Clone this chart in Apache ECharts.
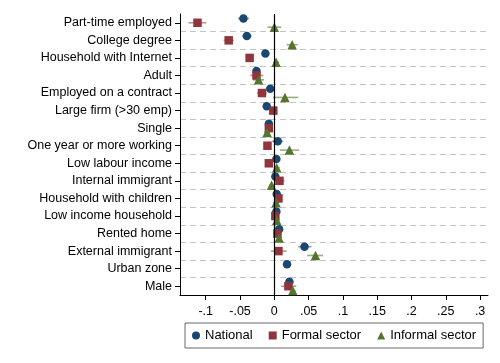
<!DOCTYPE html>
<html><head><meta charset="utf-8">
<script src="https://cdn.jsdelivr.net/npm/echarts@6/dist/echarts.min.js"></script>
<style>html,body{margin:0;padding:0;background:#fff}#c{width:500px;height:363px}</style>
</head><body><div id="c"></div>
<script>
const categories = ['Part-time employed','College degree','Household with Internet','Adult','Employed on a contract','Large firm (>30 emp)','Single','One year or more working','Low labour income','Internal immigrant','Household with children','Low income household','Rented home','External immigrant','Urban zone','Male'];

const nationalEst = [-0.045,-0.040,-0.013,-0.026,-0.006,-0.011,-0.008,0.005,0.003,0.0015,0.0035,0.003,0.007,0.044,0.0185,0.022];
const nationalLo  = [-0.053,-0.047,-0.017,-0.030,-0.011,-0.015,-0.011,-0.003,0.000,-0.001,0.001,0.000,0.004,0.035,0.013,0.019];
const nationalHi  = [-0.037,-0.033,-0.009,-0.022,-0.001,-0.007,-0.005,0.013,0.006,0.004,0.006,0.006,0.010,0.054,0.024,0.025];

const formalEst = [-0.112,-0.0665,-0.036,-0.026,-0.018,-0.0015,-0.008,-0.010,-0.008,0.0075,0.006,0.0015,0.0045,0.006,null,0.0205];
const formalLo  = [-0.125,-0.074,-0.040,-0.035,-0.025,-0.005,-0.011,-0.014,-0.013,0.002,0.002,-0.002,0.001,-0.005,null,0.010];
const formalHi  = [-0.099,-0.059,-0.032,-0.016,-0.011,0.002,-0.005,-0.006,-0.003,0.015,0.010,0.005,0.008,0.018,null,0.032];

const informalEst = [0.000,0.026,0.0025,-0.023,0.0155,null,-0.0105,0.022,0.0035,-0.004,0.0025,0.0035,0.007,0.060,null,0.027];
const informalLo  = [-0.010,0.018,-0.002,-0.031,-0.002,null,-0.015,0.008,-0.001,-0.008,-0.002,-0.001,0.003,0.048,null,0.023];
const informalHi  = [0.010,0.034,0.007,-0.015,0.035,null,-0.006,0.036,0.008,0.000,0.007,0.008,0.011,0.071,null,0.031];

const xTicks = [-0.1,-0.05,0,0.05,0.1,0.15,0.2,0.25,0.3];
const legendNames = ['National','Formal sector','Informal sector'];

const colors = ['#1a476f','#90353b','#55752f'];
const ciColors = ['rgba(26,71,111,0.55)','rgba(144,53,59,0.55)','rgba(85,117,47,0.6)'];
const offsets = [-0.25, 0, 0.25];
const symbols = ['circle','rect','triangle'];
const sizes = [8.5, 8.5, 9.5];

const ests = [nationalEst, formalEst, informalEst];
const los = [nationalLo, formalLo, informalLo];
const his = [nationalHi, formalHi, informalHi];

const font = "'Liberation Sans', Arial, sans-serif";
const chart = echarts.init(document.getElementById('c'), null, {renderer:'canvas'});

const series = [{
  type:'scatter', data:[], z:1, silent:true,
  markLine:{symbol:'none', silent:true, label:{show:false},
    lineStyle:{color:'#000', type:'solid', width:1.2},
    data:[{xAxis:0}]}
}];
for (let k=0;k<3;k++){
  const lo = los[k], hi = his[k], off = offsets[k], col = ciColors[k];
  series.push({
    type:'custom', z:2, silent:true,
    data: lo.map((l,i)=> l==null?null:[l, hi[i], i]).filter(Boolean),
    encode:{x:[0,1], y:2},
    renderItem:(params, api)=>{
      const a = api.coord([api.value(0), api.value(2)]);
      const b = api.coord([api.value(1), api.value(2)]);
      const dy = api.size([0,1])[1]*off;
      return {type:'line', shape:{x1:a[0], y1:a[1]+dy, x2:b[0], y2:b[1]+dy},
        style:{stroke:col, lineWidth:1.6}};
    }
  });
}
for (let k=0;k<3;k++){
  series.push({
    type:'scatter', name:legendNames[k], z:3,
    symbol:symbols[k], symbolSize:sizes[k],
    symbolOffset:[0, 17.56*offsets[k]],
    itemStyle:{color:colors[k], opacity:1},
    data: ests[k].map((v,i)=> v==null?null:[v,i]).filter(Boolean)
  });
}

chart.setOption({
  animation:false,
  backgroundColor:'#fff',
  grid:{left:180, right:12, top:14, bottom:68},
  xAxis:{type:'value', min:-0.1375, max:0.3115, position:'bottom',
    axisLine:{show:true, onZero:false, lineStyle:{color:'#000', width:1}},
    axisTick:{show:true, length:5, customValues:xTicks, lineStyle:{color:'#000'}},
    axisLabel:{customValues:xTicks, color:'#000', fontSize:12.5, fontFamily:font, margin:10,
      formatter:v=> v===0?'0':String(v).replace('0.','.')},
    splitLine:{show:false}},
  yAxis:[{type:'category', data:categories, inverse:true,
    axisLine:{show:true, onZero:false, lineStyle:{color:'#000', width:1}},
    axisTick:{show:true, alignWithLabel:true, length:5, lineStyle:{color:'#000'}},
    axisLabel:{color:'#000', fontSize:12.5, fontFamily:font, margin:8},
    splitLine:{show:false}},
   {type:'value', min:0, max:16, interval:1, inverse:true, position:'left',
    axisLine:{show:false, onZero:false}, axisTick:{show:false}, axisLabel:{show:false},
    splitLine:{show:true, showMinLine:false, showMaxLine:false,
      lineStyle:{color:'#c4c4c4', type:[6,4], width:1}}}],
  legend:{data:legendNames.map((n,k)=>({name:n, icon:symbols[k]})),
    left:185, top:323, orient:'horizontal',
    borderColor:'#666', borderWidth:1, padding:[6,7],
    itemGap:16, itemWidth:8, itemHeight:8,
    textStyle:{color:'#000', fontSize:13, fontFamily:font}},
  series
});
</script></body></html>
